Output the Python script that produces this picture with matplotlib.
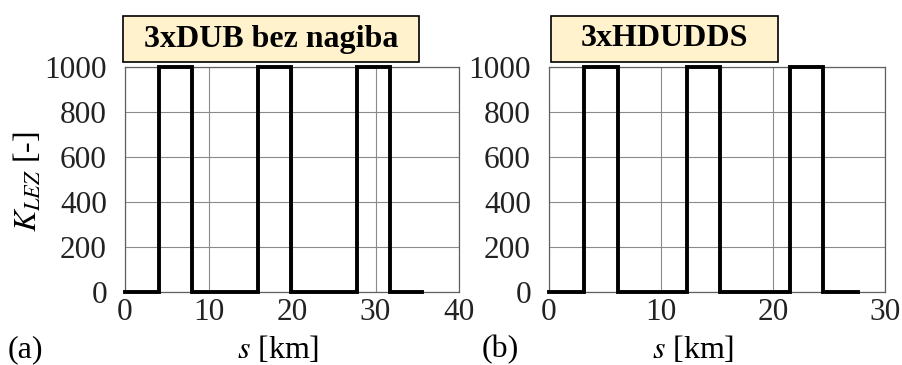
import matplotlib.pyplot as plt

plt.rcParams['font.family'] = ['Liberation Serif', 'DejaVu Serif']
plt.rcParams['mathtext.fontset'] = 'stix'

# panel (a): 3xDUB bez nagiba
s_a = [0, 4.1, 4.1, 8.05, 8.05, 15.9, 15.9, 19.9, 19.9, 27.8, 27.8, 31.7, 31.7, 35.6]
k_a = [0, 0, 1000, 1000, 0, 0, 1000, 1000, 0, 0, 1000, 1000, 0, 0]
# panel (b): 3xHDUDDS
s_b = [0, 3.1, 3.1, 6.2, 6.2, 12.3, 12.3, 15.3, 15.3, 21.5, 21.5, 24.5, 24.5, 27.6]
k_b = [0, 0, 1000, 1000, 0, 0, 1000, 1000, 0, 0, 1000, 1000, 0, 0]

titles = ['3xDUB bez nagiba', '3xHDUDDS']
letters = ['(a)', '(b)']
xmax = [40, 30]
yticks = [0, 200, 400, 600, 800, 1000]

W, H = 903, 365
fig = plt.figure(figsize=(W / 100, H / 100), dpi=100)

# axes boxes in pixels: left, right, top, bottom
boxes = [(125, 459, 67, 292), (549, 885, 67, 292)]
title_boxes = [(123, 419, 16, 62), (551, 778, 16, 62)]
label_x = [278, 693]
letter_x = [25, 500]

for i, (s, k) in enumerate([(s_a, k_a), (s_b, k_b)]):
    l, r, t, b = boxes[i]
    ax = fig.add_axes([l / W, 1 - b / H, (r - l) / W, (b - t) / H])
    ax.plot(s, k, color='black', lw=2.8, solid_joinstyle='miter', clip_on=False, zorder=3)
    ax.set_xlim(0, xmax[i])
    ax.set_ylim(0, 1000)
    ax.set_xticks(range(0, xmax[i] + 1, 10))
    ax.set_yticks(yticks)
    ax.grid(True, color='#8a8a8a', lw=0.8)
    for sp in ax.spines.values():
        sp.set_color('#606060')
        sp.set_linewidth(0.9)
    ax.tick_params(length=0, labelsize=22.5, colors='#222222')
    ax.tick_params(axis='y', pad=13)
    ax.tick_params(axis='x', pad=4)

    tl, tr, tt, tb = title_boxes[i]
    fig.text((tl + tr) / 2 / W, 1 - (tt + tb) / 2 / H, titles[i],
             ha='center', va='center', fontsize=23, fontweight='bold')
    fig.patches.append(plt.Rectangle((tl / W, 1 - tb / H), (tr - tl) / W, (tb - tt) / H,
                                     transform=fig.transFigure, facecolor='#FFF2CC',
                                     edgecolor='black', lw=1.2, zorder=-1))
    fig.text(label_x[i] / W, 1 - 350 / H, r'$s$ [km]', ha='center', va='center', fontsize=23)
    fig.text(letter_x[i] / W, 1 - 350 / H, letters[i], ha='center', va='center', fontsize=23)

fig.text(28 / W, 1 - 182 / H, r'$K_{LEZ}$ [-]', rotation=90, ha='center', va='center', fontsize=23)

fig.savefig('out.png', dpi=100)
